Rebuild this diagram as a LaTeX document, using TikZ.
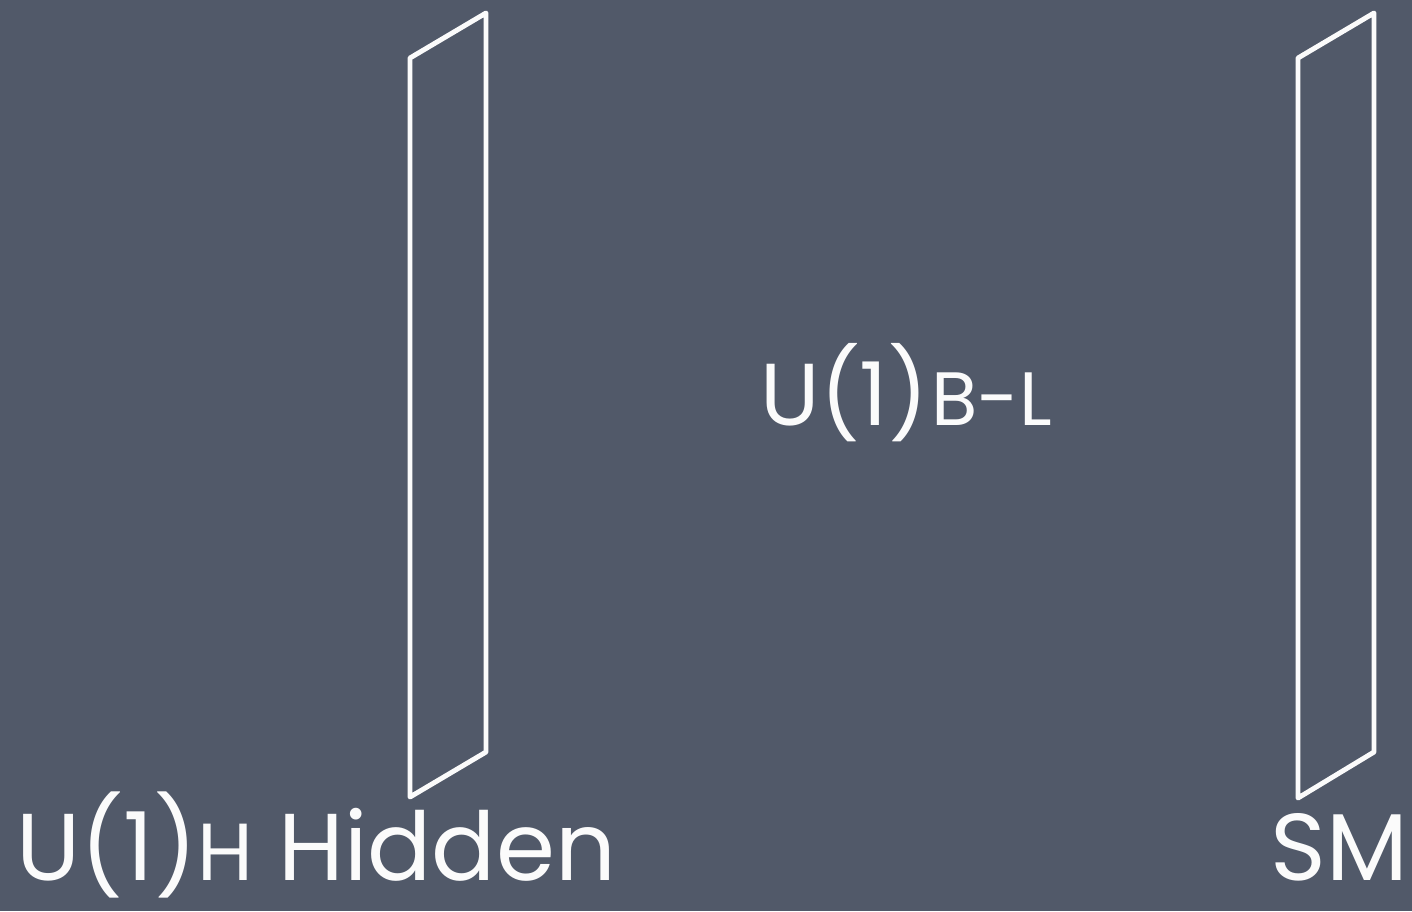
\documentclass[tikz,border=0pt]{standalone}
\usepackage{fontspec}
\setmainfont{Poppins}
\definecolor{boardFill}{HTML}{515969}
\definecolor{chalk}{HTML}{FBFBFB}
\newcommand{\BigChalk}{\fontsize{27}{30}\selectfont}
\newcommand{\MidChalk}{\fontsize{25}{28}\selectfont}
\newcommand{\SubChalk}{\fontsize{21.5}{23}\selectfont}
\newcommand{\SubBigChalk}{\fontsize{23}{25}\selectfont}

\begin{document}
\begin{tikzpicture}[
  x=0.01cm, y=-0.01cm,
  brane/.style = {draw=chalk, line width=1.4pt, line join=round},
  label/.style = {text=chalk, inner sep=0pt, anchor=base west},
]

% ---------------------------------------------------------------- board
\fill[boardFill] (0,0) rectangle (1412,911);
\useasboundingbox (0,0) rectangle (1412,911);

% ---------------------------------------------------------------- branes
\draw[brane] (410,58) -- (486,13) -- (486,752) -- (410,797) -- cycle;
\draw[brane] (1298,58) -- (1374,13) -- (1374,752) -- (1298,798) -- cycle;

% ---------------------------------------------------------------- labels
\node[label, font=\MidChalk] (bulk) at (760,425) {U(1)\kern1pt{\SubChalk B-L}};
\node[label, font=\BigChalk] (hidden) at (16,880) {U(1){\SubBigChalk H} Hidden};
\node[label, font=\BigChalk] (sm) at (1270,880) {SM};

\end{tikzpicture}
\end{document}
